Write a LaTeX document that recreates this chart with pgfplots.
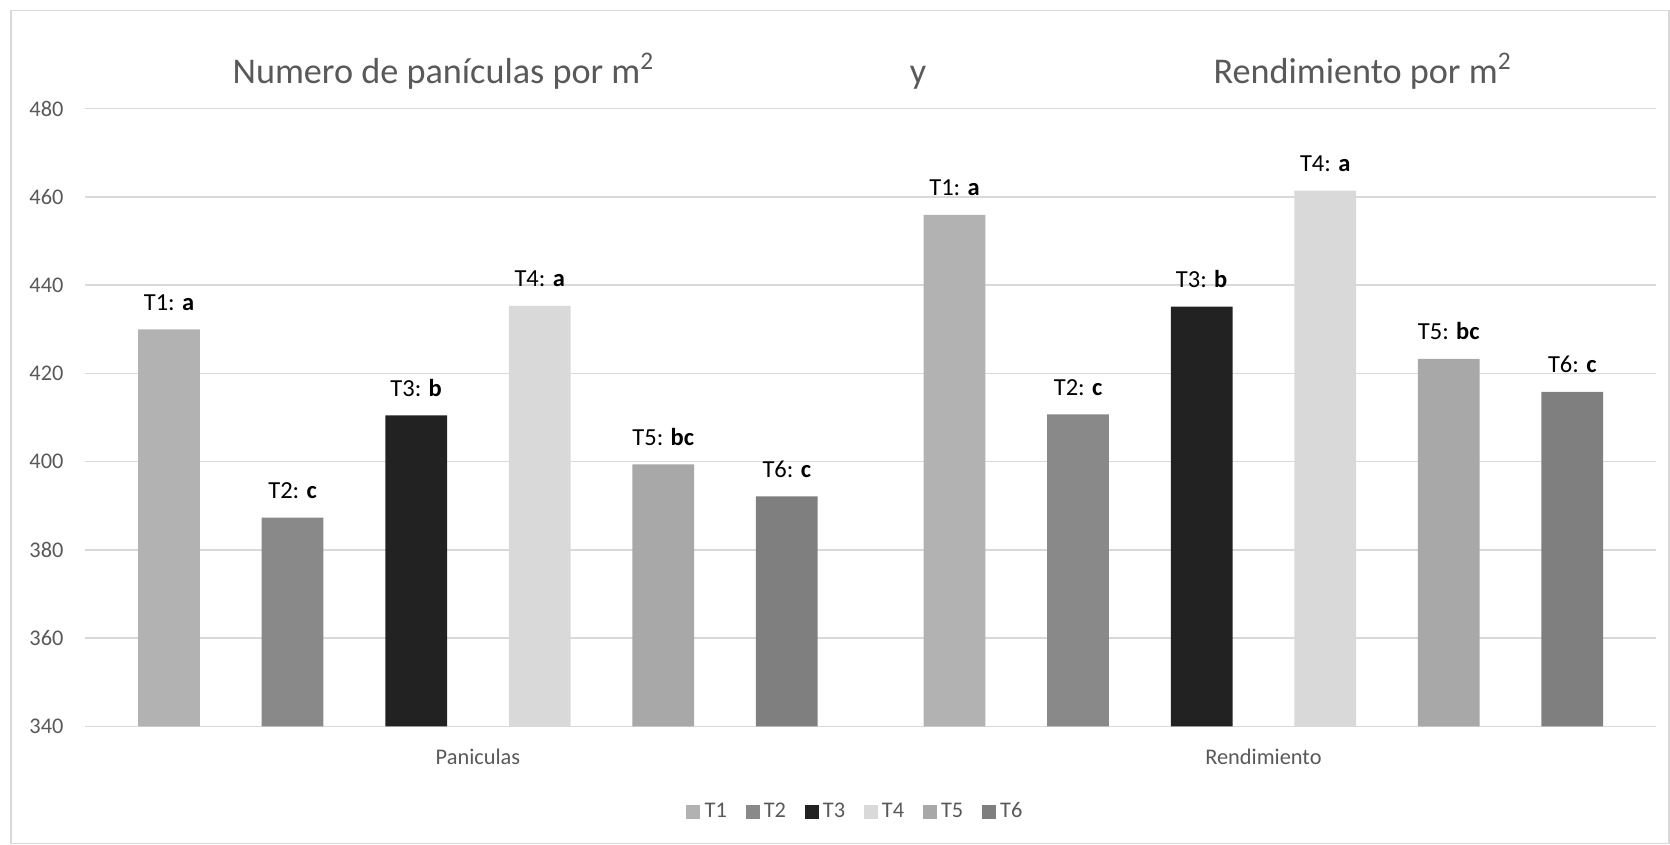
\documentclass[border=0pt]{standalone}
\usepackage{fontspec}
\setmainfont{Carlito}
\usepackage{pgfplots}
\pgfplotsset{compat=1.18}
\definecolor{cT1}{HTML}{B2B2B2}
\definecolor{cT2}{HTML}{898989}
\definecolor{cT3}{HTML}{222222}
\definecolor{cT4}{HTML}{D9D9D9}
\definecolor{cT5}{HTML}{A8A8A8}
\definecolor{cT6}{HTML}{7F7F7F}
\definecolor{txtgray}{HTML}{595959}
\definecolor{gridgray}{HTML}{D9D9D9}
\begin{document}
\begin{tikzpicture}
\path[use as bounding box] (0,0) rectangle (784pt,396.5pt);
\draw[gridgray, line width=0.8pt] (5pt,0.5pt) rectangle (783.5pt,391.5pt);
\node[anchor=base west, text=txtgray, font=\fontsize{17}{20}\selectfont, inner sep=0] at (109pt,357.5pt) {Numero de panículas por m\textsuperscript{2}};
\node[anchor=base west, text=txtgray, font=\fontsize{17}{20}\selectfont, inner sep=0] at (427pt,357.5pt) {y};
\node[anchor=base west, text=txtgray, font=\fontsize{17}{20}\selectfont, inner sep=0] at (569.5pt,357.5pt) {Rendimiento por m\textsuperscript{2}};
\begin{axis}[
  at={(40pt,55.5pt)}, anchor=south west,
  scale only axis, width=737.5pt, height=290pt,
  xmin=0, xmax=2, ymin=340, ymax=480,
  ytick={340,360,...,480},
  xtick={0.5,1.5}, xticklabels={Paniculas, Rendimiento},
  axis line style={draw=none},
  major tick length=0pt,
  ymajorgrids, grid style={gridgray, line width=0.8pt},
  /pgf/number format/assume math mode=true,
  ticklabel style={font=\fontsize{10.5}{12}\selectfont, text=txtgray},
  yticklabel style={anchor=east, inner sep=0pt, xshift=-10pt},
  xticklabel style={anchor=base, inner sep=0pt, yshift=-18pt},
  ybar, bar width=0.0786,
  every node near coord/.append style={font=\fontsize{11.5}{13}\selectfont, text=black, anchor=base, inner sep=0pt, yshift=9pt},
  legend image code/.code={\fill[#1, draw=none] (-1.5pt,-3.3pt) rectangle (5.1pt,3.3pt);},
  legend style={at={(0.491,-0.138)}, anchor=center, draw=none, fill=none, legend columns=6,
    font=\fontsize{10.5}{12}\selectfont, text=txtgray,
    /tikz/every even column/.append style={column sep=6.7pt}},
]
\addplot[fill=cT1, draw=none, bar shift=-0.39325, nodes near coords={T1: \textbf{a}}] coordinates {(0.5,430.0) (1.5,455.9)};
\addplot[fill=cT2, draw=none, bar shift=-0.23595, nodes near coords={T2: \textbf{c}}] coordinates {(0.5,387.3) (1.5,410.7)};
\addplot[fill=cT3, draw=none, bar shift=-0.07865, nodes near coords={T3: \textbf{b}}] coordinates {(0.5,410.5) (1.5,435.1)};
\addplot[fill=cT4, draw=none, bar shift=0.07865, nodes near coords={T4: \textbf{a}}] coordinates {(0.5,435.3) (1.5,461.4)};
\addplot[fill=cT5, draw=none, bar shift=0.23595, nodes near coords={T5: \textbf{bc}}] coordinates {(0.5,399.4) (1.5,423.3)};
\addplot[fill=cT6, draw=none, bar shift=0.39325, nodes near coords={T6: \textbf{c}}] coordinates {(0.5,392.1) (1.5,415.8)};
\legend{T1,T2,T3,T4,T5,T6}
\end{axis}
\end{tikzpicture}
\end{document}
